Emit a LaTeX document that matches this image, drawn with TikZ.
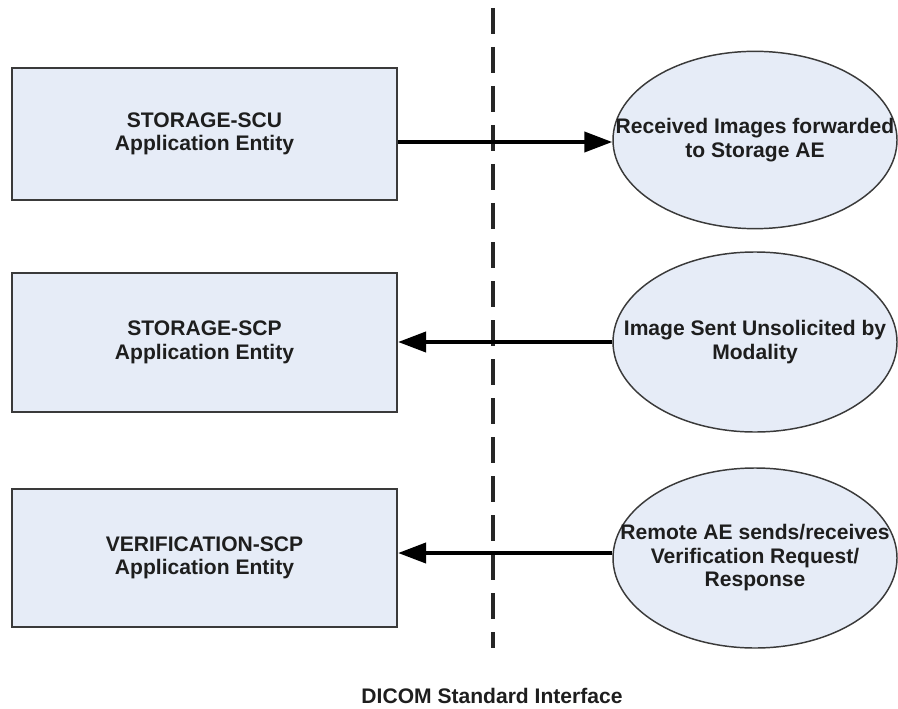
\documentclass[tikz,border=0pt]{standalone}
\usepackage{fontspec}
\setmainfont{Liberation Sans}
\usetikzlibrary{shapes.geometric,arrows.meta}
\definecolor{fillblue}{HTML}{E6ECF7}
\definecolor{edgegray}{HTML}{3A3A3A}
\definecolor{txt}{HTML}{1E1E1E}
\begin{document}
\begin{tikzpicture}[x=0.75pt,y=-0.75pt,
  lbl/.style={text=txt,align=center,inner sep=0pt,font=\fontsize{15.8pt}{17.6pt}\selectfont\bfseries},
  aebox/.style={lbl,draw=edgegray,line width=1.6pt,fill=fillblue,rectangle,minimum width=288.75pt},
  remote/.style={draw=edgegray,line width=1.1pt,fill=fillblue,ellipse,inner sep=0pt,
    minimum width=213pt,minimum height=133pt},
  arr/.style={line width=3pt,black,-{Triangle[length=21pt,width=15pt]}},
  boundary/.style={line width=2.3pt,draw=black!85,dash pattern=on 19.5pt off 9.75pt}]
\useasboundingbox (0,0) rectangle (898,709);
% boundary
\coordinate (dtop) at (493,8);
\coordinate (dbot) at (493,648);
\draw[boundary] (dtop) -- (dbot);
% boxes
\node[aebox,minimum height=99pt] (b1) at (204.5,134) {STORAGE-SCU\\Application Entity};
\node[aebox,minimum height=104pt] (b2) at (204.5,342.5) {STORAGE-SCP\\Application Entity};
\node[aebox,minimum height=103.5pt] (b3) at (204.5,558) {VERIFICATION-SCP\\Application Entity};
% ellipses
\node[remote] (e1) at (755,140) {};
\node[remote,minimum height=135pt] (e2) at (755,342) {};
\node[remote,minimum height=135pt] (e3) at (755,558) {};
\node[lbl] (t1) at (e1) {Received Images forwarded\\to Storage AE};
\node[lbl] (t2) at (e2) {Image Sent Unsolicited by\\Modality};
\node[lbl] (t3) at (e3) {Remote AE sends/receives\\Verification Request/\\Response};
% arrows
\draw[arr] ([yshift=-1.5pt]b1.east |- e1.west) -- ([yshift=-1.5pt]e1.west);
\draw[arr] (e2.west) -- (b2.east |- e2.west);
\draw[arr] ([yshift=3.75pt]e3.west) -- ([yshift=3.75pt]b3.east);
% caption
\node[lbl] (cap) at (492,696) {DICOM Standard Interface};
\end{tikzpicture}
\end{document}
